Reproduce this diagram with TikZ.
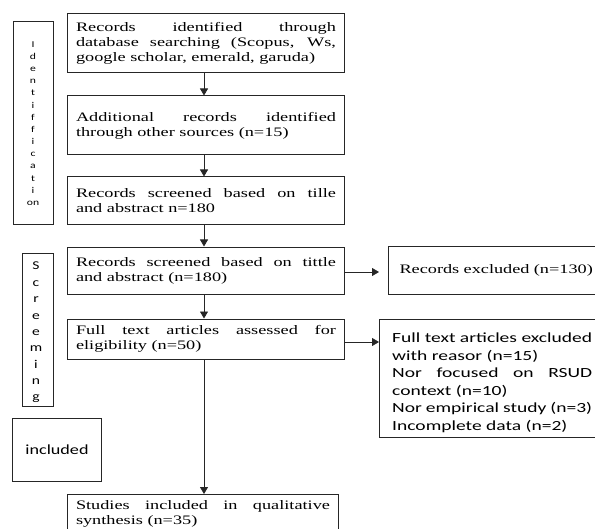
\documentclass[tikz,border=0pt]{standalone}
\usepackage{fontspec}
\setmainfont{Liberation Serif}[FakeStretch=1.41]
\newfontfamily\calibri{Carlito}[FakeStretch=1.4]
\newfontfamily\calibrinarrow{Carlito}[FakeStretch=1.3]
\usetikzlibrary{arrows.meta}
\newcommand\loosepar{\tolerance=10000\relax\hyphenpenalty=10000\relax}
\tikzset{
  box/.style={draw=black!85, line width=1bp, rectangle, inner xsep=8bp, inner ysep=0bp,
    text width=260bp, minimum width=276bp, align=justify,
    font=\loosepar\fontsize{13}{15}\selectfont},
  side/.style={draw=black!85, line width=1bp, rectangle, inner sep=0bp},
  sans/.style={font=\loosepar\calibri\fontsize{14}{17.5}\selectfont},
  arr/.style={line width=0.8bp, black!85, -{Triangle[length=7bp,width=8bp]}}
}
\begin{document}
\begin{tikzpicture}[x=1bp,y=-1bp]
    \useasboundingbox (0,0) rectangle (595,529);

    \node[box, minimum height=59bp] (B1) at (206,43.5) {Records identified through\linebreak database searching (Scopus, Ws,\linebreak google scholar, emerald, garuda)};
    \node[box, minimum height=59bp] (B2) at (206,125.5) {Additional records identified\linebreak through other sources (n=15)};
    \node[box, minimum height=47bp] (B3) at (206,200.5) {Records screened based on tille\linebreak and abstract n=180};
    \node[box, minimum height=47bp] (B4) at (206,270.5) {Records screened based on tittle\linebreak and abstract (n=180)};
    \node[box, minimum height=40bp] (B5) at (206,339) {Full text articles assessed for\linebreak eligibility (n=50)};
    \node[box, text width=254bp, minimum width=270bp, inner ysep=6bp, anchor=north] (B6) at (203,494) {Studies included in qualitative\linebreak synthesis (n=35)};

    \draw[arr] (B1.south -| 204,0) -- (B2.north -| 204,0);
    \draw[arr] (B2.south -| 204,0) -- (B3.north -| 204,0);
    \draw[arr] (B3.south -| 204,0) -- (B4.north -| 204,0);
    \draw[arr] (B4.south -| 204,0) -- (B5.north -| 204,0);
    \draw[arr] (B5.south -| 204,0) -- (B6.north -| 204,0);

    \node[side, anchor=west, minimum height=48bp, text width=200bp, inner xsep=11bp, align=left,
      font=\fontsize{13}{15}\selectfont] (exA) at (388,270) {Records excluded (n=130)};
    \node[side, anchor=north west, minimum width=222bp, minimum height=118bp] (exB) at (379,319) {};
    \node[sans, anchor=north west, inner sep=0bp, text width=200bp, align=justify] (exBtext) at (392,333)
      {Full text articles excluded\linebreak with reasor (n=15)\\
       Nor focused on RSUD\linebreak context (n=10)\\
       Nor empirical study (n=3)\\
       Incomplete data (n=2)};

    \draw[arr] (B4.east |- 0,272) -- (379,272);
    \draw[arr] (B5.east |- 0,342) -- (exB.west |- 0,342);

    \node[side, minimum width=40bp, minimum height=202bp] (ident) at (33,123) {};
    \node[align=center, inner sep=0bp, font=\calibrinarrow\fontsize{9}{12.2}\selectfont] (identtext) at (33,123.5)
      {I\\d\\e\\n\\t\\i\\f\\f\\i\\c\\a\\t\\i\\on};
    \node[align=center, inner sep=0bp, font=\calibrinarrow\fontsize{12}{16.4}\selectfont] (screentext) at (36,332.5)
      {S\\c\\r\\e\\e\\m\\i\\n\\g};
    \fill[white] (22,406.5) rectangle (53,412);
    \node[side, minimum width=31bp, minimum height=152bp] (screen) at (37.5,330) {};
    \node[side, minimum width=88bp, minimum height=63bp, font=\calibrinarrow\fontsize{14}{17.5}\selectfont] (incl) at (57,449.5) {included};
\end{tikzpicture}
\end{document}
